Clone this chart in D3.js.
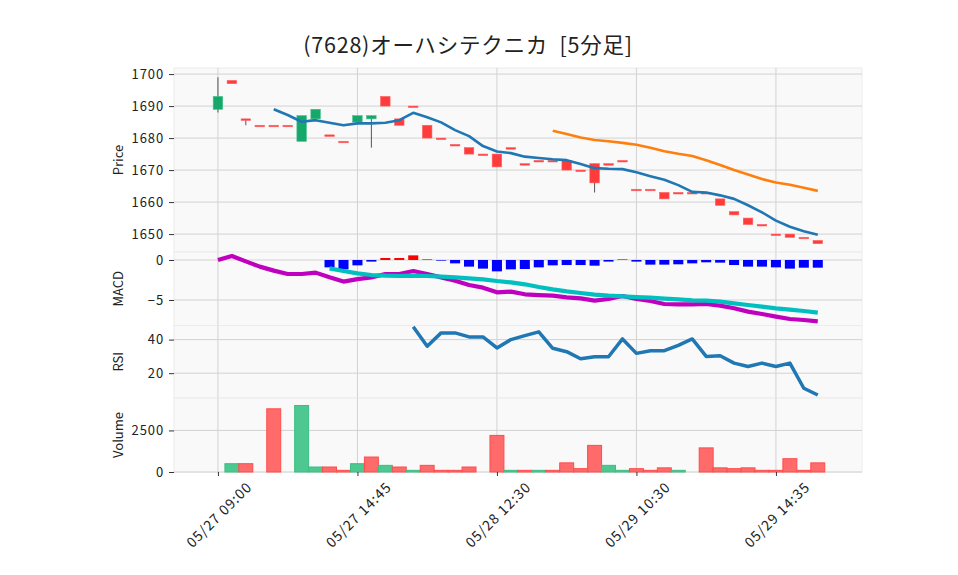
<!DOCTYPE html>
<html>
<head>
<meta charset="utf-8">
<script src="https://cdn.jsdelivr.net/npm/d3@7"></script>
<style>
  body { margin: 0; background: #fff; }
  svg text { font-family: "Noto Sans CJK JP", "Noto Sans", sans-serif; fill: #222; }
</style>
</head>
<body>
<svg id="chart" width="958" height="575"></svg>
<script>
// ---- data (one entry per 5-minute bar) ----
let opens  = [1689,1698,1686,1684,1684,1684,1679,1686,1681,1679,1685,1686,1693,1686,1690,1684,1680,1678,1677,1675,1675,1677,1672,1673,1673,1673,1670,1672,1672,1673,1664,1664,1663,1663,1663,1663,1661,1657,1655,1653,1650,1650,1649,1648]
let highs  = [1699,1698,1686,1684,1684,1684,1687,1689,1681,1679,1687,1687,1693,1686,1690,1684,1680,1678,1677,1675,1675,1677,1672,1673,1673,1673,1670,1672,1672,1673,1664,1664,1663,1663,1663,1663,1661,1657,1655,1653,1650,1650,1649,1648]
let lows   = [1688,1697,1684,1684,1684,1684,1679,1686,1681,1679,1685,1677,1690,1684,1690,1680,1680,1678,1675,1675,1671,1677,1672,1673,1673,1670,1670,1663,1672,1673,1664,1664,1661,1663,1663,1663,1659,1656,1653,1653,1650,1649,1649,1647]
let closes = [1693,1697,1686,1684,1684,1684,1687,1689,1681,1679,1687,1687,1690,1684,1690,1680,1680,1678,1675,1675,1671,1677,1672,1673,1673,1670,1670,1666,1672,1673,1664,1664,1661,1663,1663,1663,1659,1656,1653,1653,1650,1649,1649,1647]
let volumes = [0,500,500,0,3800,0,4000,300,300,100,500,900,400,300,100,400,100,100,300,0,2200,100,100,100,100,550,200,1600,400,100,200,100,250,100,0,1450,250,200,250,100,100,800,100,550]

// moving averages (start at bar 4 and bar 24)
let sma5 = [null,null,null,null,1689.0,1687.2,1685.1,1685.6,1684.8,1684.0,1684.6,1684.6,1684.8,1685.6,1687.9,1686.5,1684.9,1682.5,1680.6,1677.5,1675.8,1675.3,1674.2,1673.8,1673.4,1673.1,1671.9,1670.6,1670.4,1670.3,1669.3,1668.1,1667.0,1665.3,1663.2,1663.0,1662.1,1661.0,1659.0,1656.8,1654.2,1652.3,1650.9,1649.8]
let sma25 = [null,null,null,null,null,null,null,null,null,null,null,null,null,null,null,null,null,null,null,null,null,null,null,null,1682.3,1681.3,1680.2,1679.4,1679.0,1678.5,1677.9,1677.0,1675.9,1675.1,1674.4,1673.1,1671.6,1670.0,1668.6,1667.2,1666.1,1665.4,1664.5,1663.5]

let macdLine = [0,0.5,-0.17,-0.83,-1.33,-1.75,-1.75,-1.58,-2.17,-2.7,-2.4,-2.17,-1.75,-1.75,-1.38,-1.75,-2.17,-2.58,-3.13,-3.46,-4.04,-3.96,-4.29,-4.38,-4.46,-4.67,-4.79,-5.08,-4.88,-4.5,-4.88,-5.13,-5.5,-5.54,-5.54,-5.5,-5.7,-6.04,-6.46,-6.75,-7.08,-7.38,-7.5,-7.67]
let signalLine = [null,null,null,null,null,null,null,null,-1.04,-1.38,-1.67,-1.88,-1.96,-2.0,-1.96,-2.0,-2.08,-2.17,-2.29,-2.42,-2.63,-2.8,-3.04,-3.38,-3.67,-3.92,-4.13,-4.33,-4.46,-4.54,-4.63,-4.71,-4.83,-4.92,-5.04,-5.08,-5.2,-5.42,-5.63,-5.83,-6.04,-6.2,-6.38,-6.58]
let macdHist = [null,null,null,null,null,null,null,null,-0.92,-1.17,-0.67,-0.2,0.25,0.25,0.58,0.08,-0.08,-0.42,-0.83,-1.08,-1.42,-1.17,-1.13,-0.92,-0.67,-0.63,-0.63,-0.71,-0.2,0.08,-0.2,-0.58,-0.58,-0.54,-0.42,-0.29,-0.33,-0.63,-0.83,-0.83,-0.92,-1.08,-0.96,-0.96]

let rsi = [null,null,null,null,null,null,null,null,null,null,null,null,null,null,47.6,36,44,44,41.6,41.6,35,40,42.4,44.6,34.8,32.8,28.6,29.8,29.8,40.4,31.8,33.4,33.4,36.6,40.4,30,30.4,26,24,26,24,26,11,7]

let xTickIdx = [0, 10, 20, 30, 40]
let xTickLabels = ['05/27 09:00', '05/27 14:45', '05/28 12:30', '05/29 10:30', '05/29 14:35']
let priceTicks = [1650, 1660, 1670, 1680, 1690, 1700]
let macdTicks = [-5, 0]
let rsiTicks = [20, 40]
let volTicks = [0, 2500]

let title = '(7628)オーハシテクニカ  [5分足]'

// ---- layout ----
let left = 174, right = 862
let upColor = '#16a86a', downColor = '#ff3b3b'

let svg = d3.select('#chart')

let x = d3.scaleLinear().domain([-3.15, 46.17]).range([left, right])
let step = x(1) - x(0)

let panels = [
  { name: 'Price',  top: 68,    bottom: 252,   domain: [1644.4, 1701.9], ticks: priceTicks },
  { name: 'MACD',   top: 252,   bottom: 325.5, domain: [-8.19, 1],       ticks: macdTicks },
  { name: 'RSI',    top: 325.5, bottom: 398,   domain: [5.2, 48.4],      ticks: rsiTicks },
  { name: 'Volume', top: 398,   bottom: 472,   domain: [0, 4450],        ticks: volTicks }
]
panels.forEach(p => {
  p.y = d3.scaleLinear().domain(p.domain).range([p.bottom, p.top])
})
let [pP, pM, pR, pV] = panels

// backgrounds + grid
panels.forEach(p => {
  svg.append('rect')
    .attr('x', left).attr('y', p.top)
    .attr('width', right - left).attr('height', p.bottom - p.top)
    .attr('fill', '#f9f9f9').attr('stroke', '#ececec').attr('stroke-width', 1)

  let g = svg.append('g').attr('class', 'grid')
  g.selectAll('.hg').data(p.ticks).enter().append('line')
    .attr('x1', left).attr('x2', right)
    .attr('y1', d => p.y(d)).attr('y2', d => p.y(d))
    .attr('stroke', '#d2d2d2').attr('stroke-width', 1)
  g.selectAll('.vg').data(xTickIdx).enter().append('line')
    .attr('x1', d => x(d)).attr('x2', d => x(d))
    .attr('y1', p.top).attr('y2', p.bottom)
    .attr('stroke', '#d2d2d2').attr('stroke-width', 1)
})

let idx = d3.range(closes.length)

// ---- candles ----
let cg = svg.append('g')
cg.selectAll('.wick').data(idx.filter(i => highs[i] > Math.max(opens[i], closes[i]) || lows[i] < Math.min(opens[i], closes[i])))
  .enter().append('line')
  .attr('x1', i => x(i)).attr('x2', i => x(i))
  .attr('y1', i => pP.y(highs[i])).attr('y2', i => pP.y(lows[i]))
  .attr('stroke', '#555').attr('stroke-width', 1)

let bodyW = step * 0.68
cg.selectAll('.body').data(idx).enter().append('rect')
  .attr('x', i => x(i) - bodyW / 2)
  .attr('width', bodyW)
  .attr('y', i => pP.y(Math.max(opens[i], closes[i])))
  .attr('height', i => Math.max(1.5, pP.y(Math.min(opens[i], closes[i])) - pP.y(Math.max(opens[i], closes[i]))))
  .attr('fill', i => closes[i] > opens[i] ? upColor : downColor)
  .attr('stroke', i => closes[i] > opens[i] ? '#3cc089' : '#ff6060')
  .attr('stroke-width', 0.6)

function drawLine (data, yScale, color, width) {
  let line = d3.line()
    .defined(d => d != null)
    .x((d, i) => x(i))
    .y(d => yScale(d))
  svg.append('path')
    .attr('d', line(data))
    .attr('fill', 'none')
    .attr('stroke', color)
    .attr('stroke-width', width)
    .attr('stroke-linejoin', 'round')
}

drawLine(sma5, pP.y, '#1f77b4', 2.6)
drawLine(sma25, pP.y, '#ff7f0e', 2.6)

// ---- MACD ----
let histW = step * 0.72
svg.append('g').selectAll('rect').data(idx.filter(i => macdHist[i] != null)).enter().append('rect')
  .attr('x', i => x(i) - histW / 2)
  .attr('width', histW)
  .attr('y', i => pM.y(Math.max(0, macdHist[i])))
  .attr('height', i => Math.abs(pM.y(macdHist[i]) - pM.y(0)))
  .attr('fill', i => macdHist[i] >= 0 ? '#ff0000' : '#0000ff')

drawLine(macdLine, pM.y, '#bf00bf', 4.2)
drawLine(signalLine, pM.y, '#00bfbf', 4.2)

// ---- RSI ----
drawLine(rsi, pR.y, '#1f77b4', 3.5)

// ---- Volume ----
svg.append('g').selectAll('rect').data(idx.filter(i => volumes[i] > 0)).enter().append('rect')
  .attr('x', i => x(i) - step / 2)
  .attr('width', step)
  .attr('y', i => pV.y(volumes[i]))
  .attr('height', i => pV.y(0) - pV.y(volumes[i]))
  .attr('fill', i => i > 0 && closes[i] > closes[i - 1] ? '#4cc890' : '#ff6b6b')
  .attr('stroke', i => i > 0 && closes[i] > closes[i - 1] ? '#3dbd84' : '#ff4c4c')
  .attr('stroke-width', 1)

// ---- axes ----
panels.forEach(p => {
  let ax = svg.append('g')
    .attr('transform', `translate(${left},0)`)
    .call(d3.axisLeft(p.y).tickValues(p.ticks).tickSize(5).tickPadding(5).tickFormat(d => d < 0 ? '\u2212' + Math.abs(d) : d))
  ax.select('.domain').remove()
  ax.selectAll('line').attr('stroke', '#333')
  ax.selectAll('text').style('font-size', '13px').attr('letter-spacing', '0.9px')

  svg.append('text')
    .attr('transform', `translate(117,${(p.top + p.bottom) / 2}) rotate(-90)`)
    .attr('text-anchor', 'middle')
    .attr('dominant-baseline', 'central')
    .style('font-size', '13px')
    .text(p.name)
})

let xa = svg.append('g')
  .attr('transform', `translate(0,${pV.bottom})`)
  .call(d3.axisBottom(x).tickValues(xTickIdx).tickSize(4).tickFormat((d, i) => xTickLabels[i]))
xa.select('.domain').remove()
xa.selectAll('line').attr('stroke', '#333')
xa.selectAll('text')
  .attr('text-anchor', 'middle')
  .attr('dy', null)
  .attr('y', 0)
  .attr('transform', 'translate(0,42) rotate(-45)')
  .style('font-size', '14px')
  .style('white-space', 'pre')
  .attr('letter-spacing', '1px')
  .attr('dominant-baseline', 'central')

svg.append('text')
  .attr('x', 468).attr('y', 53)
  .attr('text-anchor', 'middle')
  .style('font-size', '21.5px')
  .style('white-space', 'pre')
  .attr('letter-spacing', '0.8px')
  .text(title)
</script>
</body>
</html>
